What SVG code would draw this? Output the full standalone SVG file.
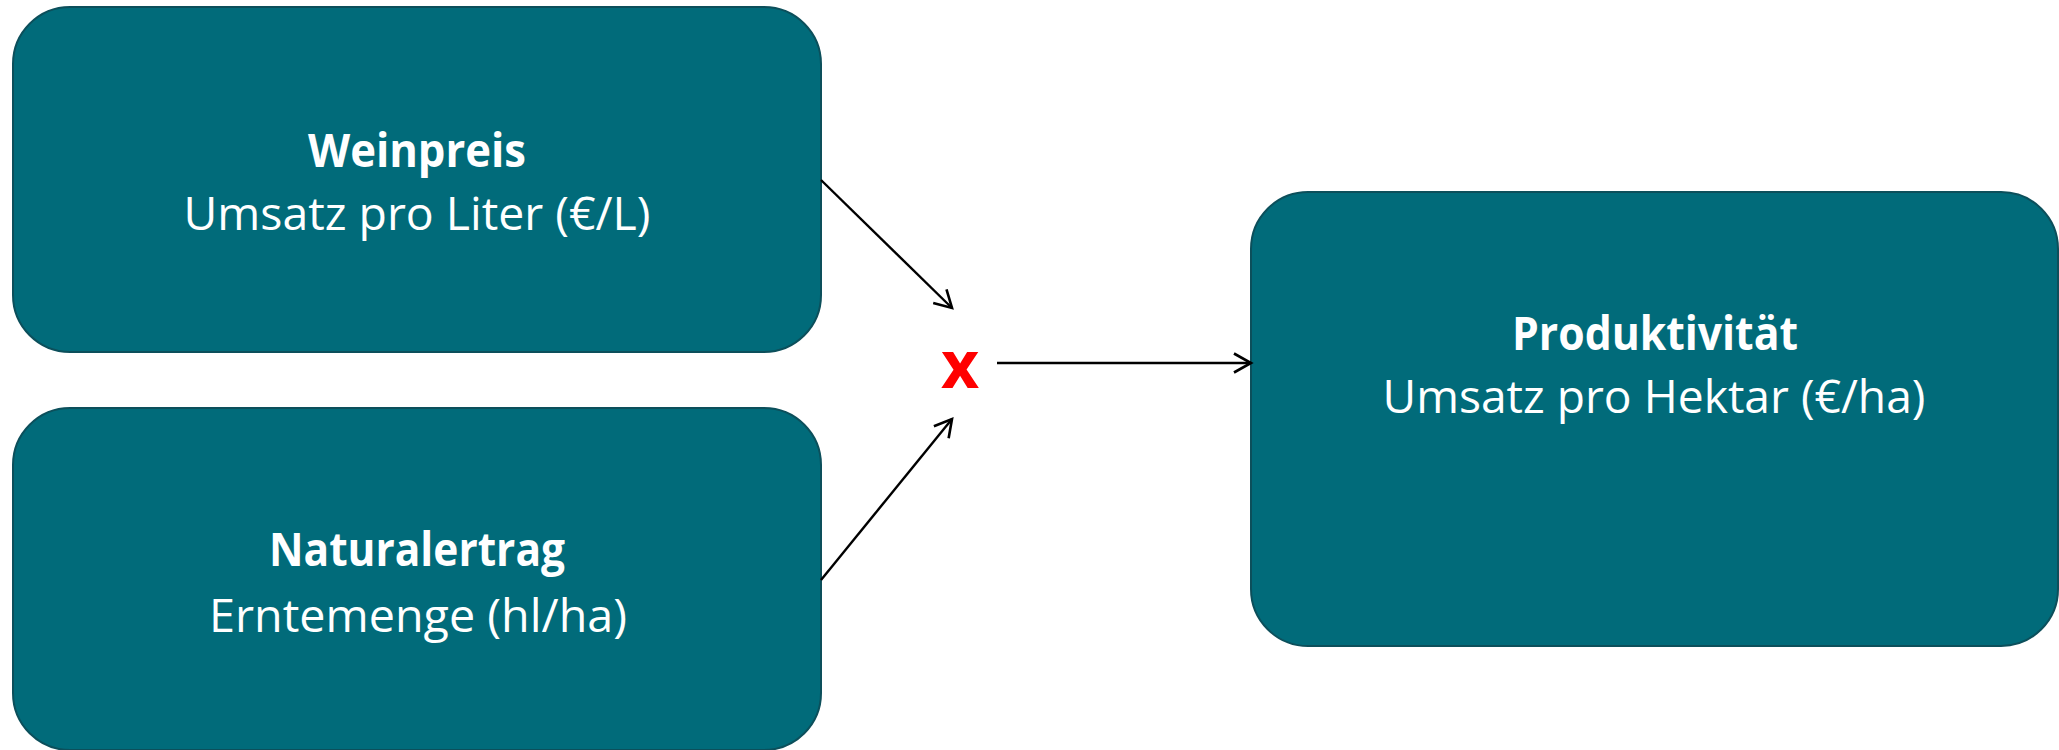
<svg xmlns="http://www.w3.org/2000/svg" width="2059" height="750" viewBox="0 0 2059 750">
  <style>
    .box { fill: #016B7A; stroke: #0C4F5B; stroke-width: 2; }
    .title { font-family: "Open Sans", "Noto Sans", sans-serif; font-weight: 700; font-size: 46px; fill: #FFFFFF; text-anchor: middle; }
    .sub { font-family: "Open Sans", "Noto Sans", sans-serif; font-weight: 400; font-size: 46px; fill: #FFFFFF; text-anchor: middle; }
    .link { fill: none; stroke: #000000; stroke-width: 2.4; marker-end: url(#chevron); }
    .op { font-family: "Open Sans", "Noto Sans", sans-serif; font-weight: 700; font-size: 66px; fill: #FF0000; text-anchor: middle; }
  </style>
  <defs>
    <!-- open chevron arrowhead -->
    <marker id="chevron" markerUnits="userSpaceOnUse" markerWidth="24" markerHeight="22" refX="19" refY="11" orient="auto" viewBox="0 0 24 22">
      <path d="M2,1.5 L19,11 L2,20.5" fill="none" stroke="#000000" stroke-width="2.6" stroke-linejoin="miter"/>
    </marker>
  </defs>
  <rect x="0" y="0" width="2059" height="750" fill="#FFFFFF"/>

  <g id="weinpreis">
    <rect class="box" x="13" y="7" width="808" height="345" rx="57" ry="57"/>
    <text class="title" x="417" y="167" textLength="218" lengthAdjust="spacingAndGlyphs">Weinpreis</text>
    <text class="sub" x="417" y="230" textLength="467" lengthAdjust="spacingAndGlyphs">Umsatz pro Liter (€/L)</text>
  </g>

  <g id="naturalertrag">
    <rect class="box" x="13" y="408" width="808" height="342" rx="57" ry="57"/>
    <text class="title" x="417" y="566" textLength="296" lengthAdjust="spacingAndGlyphs">Naturalertrag</text>
    <text class="sub" x="418" y="632" textLength="418" lengthAdjust="spacingAndGlyphs">Erntemenge (hl/ha)</text>
  </g>

  <g id="produktivitaet">
    <rect class="box" x="1251" y="192" width="807" height="454" rx="57" ry="57"/>
    <text class="title" x="1655" y="350" textLength="286" lengthAdjust="spacingAndGlyphs">Produktivität</text>
    <text class="sub" x="1654" y="413" textLength="543" lengthAdjust="spacingAndGlyphs">Umsatz pro Hektar (€/ha)</text>
  </g>

  <g id="operator">
    <text class="op" x="960" y="388">x</text>
  </g>

  <g id="connectors">
    <line class="link" x1="821" y1="180" x2="952" y2="308"/>
    <line class="link" x1="821" y1="580" x2="952" y2="419"/>
    <line class="link" x1="997" y1="363" x2="1251" y2="363"/>
  </g>
</svg>
